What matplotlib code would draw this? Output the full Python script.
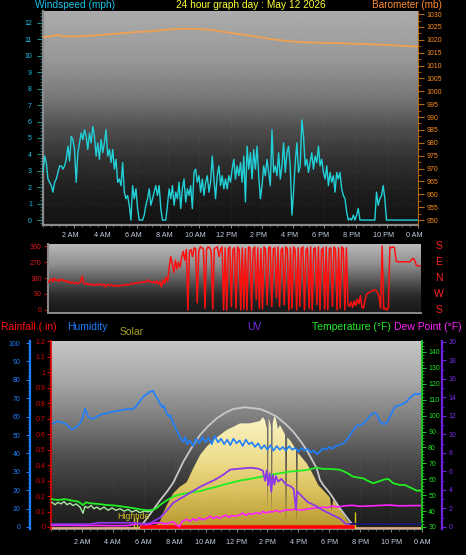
import numpy as np
import matplotlib
matplotlib.use("Agg")
import matplotlib.pyplot as plt
from matplotlib.colors import LinearSegmentedColormap
from matplotlib.ticker import MultipleLocator, FuncFormatter
from matplotlib.transforms import ScaledTranslation, blended_transform_factory

plt.rcParams['font.family'] = ['Liberation Sans', 'DejaVu Sans']

W, H = 466, 555

# ---------------- data ----------------
hour_ticks = [2, 4, 6, 8, 10, 12, 14, 16, 18, 20, 22, 24]
hour_labels = ['2 AM', '4 AM', '6 AM', '8 AM', '10 AM', '12 PM',
               '2 PM', '4 PM', '6 PM', '8 PM', '10 PM', '0 AM']
compass_labels = ['S', 'E', 'N', 'W', 'S']
compass_deg = [360, 270, 180, 90, 0]

# windspeed (mph), evenly spaced samples over the day
wind_speed = [
    2.9, 3.9, 3.5, 2.5, 2.3, 2.1, 1.7, 2.3, 2.5, 2.9,
    3.3, 3.3, 3.1, 3.3, 3.7, 4.5, 3.6, 5.1, 4.9, 4.3,
    2.3, 4.1, 4.7, 5.3, 4.9, 5.5, 5.1, 4.3, 5.3, 4.7,
    5.7, 5.1, 3.9, 4.7, 3.7, 4.9, 4.1, 4.7, 5.5, 3.9,
    4.3, 3.5, 4.3, 3.1, 3.7, 2.3, 2.5, 2.1, 3.5, 1.7,
    1.3, 1.5, 0.9, 0.0, 2.1, 1.3, 1.9, 0.7, 0.0, 0.0,
    0.0, 0.3, 0.9, 1.3, 1.9, 0.9, 1.3, 1.7, 2.1, 1.5,
    2.1, 0.7, 0.0, 0.0, 0.0, 0.9, 1.9, 1.3, 2.1, 0.9,
    1.7, 1.3, 2.3, 0.7, 1.9, 2.5, 1.1, 1.9, 1.5, 2.1,
    0.7, 2.9, 3.1, 2.3, 2.7, 1.7, 2.5, 1.5, 2.3, 2.7,
    1.7, 2.3, 3.9, 2.5, 1.3, 2.7, 3.3, 2.1, 2.7, 1.9,
    2.5, 1.9, 2.7, 2.3, 3.1, 3.7, 2.5, 3.3, 2.7, 3.5,
    2.3, 3.9, 1.1, 4.5, 3.1, 4.1, 2.5, 4.3, 3.1, 4.5,
    2.7, 1.3, 2.1, 3.3, 2.7, 3.7, 2.9, 2.1, 5.5, 2.9,
    3.3, 2.7, 4.1, 2.5, 3.3, 4.7, 2.9, 4.1, 4.5, 3.3,
    0.3, 1.7, 3.5, 4.7, 2.9, 3.3, 6.1, 5.1, 3.3, 3.7,
    2.9, 3.5, 4.1, 3.1, 3.9, 3.5, 4.5, 3.3, 3.7, 2.9,
    2.5, 3.3, 2.1, 2.9, 2.3, 2.7, 1.7, 2.9, 2.5, 2.9,
    1.9, 1.5, 1.3, 0.5, 0.0, 0.1, 0.0, 0.3, 0.0, 0.3,
    0.7, 0.0, 0.0, 0.0, 0.0, 0.0, 0.0, 0.0, 0.0, 0.0,
    0.0, 1.7, 0.9, 1.3, 1.5, 2.1, 1.3, 0.0, 0.0, 0.0,
    0.0, 0.0, 0.0, 0.0, 0.0, 0.0, 0.0, 0.0, 0.0, 0.0,
    0.0, 0.0, 0.0, 0.0, 0.0, 0.0, 0.0,
]

# barometer (hour, mb)
barometer = [
    (0.0, 1021.1), (0.45, 1021.3), (0.96, 1021.9), (1.3, 1021.4), (2.05, 1021.3),
    (3.0, 1021.6), (4.0, 1022.0), (4.9, 1022.5), (5.9, 1023.0), (6.9, 1023.3),
    (7.8, 1023.9), (8.8, 1024.3), (9.7, 1024.3), (10.7, 1023.9), (11.7, 1023.0),
    (12.6, 1022.2), (13.6, 1021.3), (14.6, 1020.3), (15.5, 1019.6), (16.5, 1019.1),
    (17.4, 1018.9), (18.4, 1018.8), (19.4, 1018.6), (20.3, 1018.4), (21.3, 1018.2),
    (22.2, 1018.0), (23.2, 1017.6), (24.0, 1017.3),
]

# wind direction (degrees), one sample every 6 minutes
wind_dir = [
    155, 165, 175, 160, 180, 165, 170, 160, 175, 165,
    170, 160, 165, 155, 160, 150, 158, 150, 155, 148,
    152, 160, 190, 150, 145, 150, 142, 148, 140, 145,
    138, 145, 140, 148, 142, 138, 145, 130, 140, 145,
    136, 142, 135, 140, 132, 138, 134, 140, 136, 142,
    138, 145, 140, 148, 150, 146, 152, 150, 156, 152,
    158, 154, 160, 156, 170, 158, 162, 155, 160, 150,
    165, 145, 160, 130, 170, 150, 185, 160, 240, 300,
    260, 210, 280, 230, 270, 240, 300, 330, 280, 340,
    0, 330, 340, 300, 350, 345, 40, 330, 355, 350,
    345, 10, 340, 355, 350, 330, 5, 345, 350, 355,
    300, 340, 355, 0, 350, 0, 345, 355, 20, 340,
    350, 10, 355, 340, 0, 350, 5, 345, 0, 355,
    350, 0, 340, 355, 60, 350, 10, 345, 5, 355,
    340, 30, 350, 355, 20, 345, 350, 70, 355, 20,
    340, 350, 30, 355, 345, 0, 350, 10, 355, 340,
    0, 350, 20, 345, 355, 0, 340, 350, 10, 355,
    0, 345, 350, 30, 355, 0, 340, 350, 5, 355,
    0, 345, 350, 20, 355, 340, 0, 350, 10, 355,
    345, 0, 350, 30, 20, 45, 15, 50, 25, 60,
    35, 80, 15, 10, 55, 90, 95, 100, 105, 108,
    115, 110, 100, 75, 10, 360, 5, 10, 0, 10,
    355, 350, 355, 350, 275, 272, 270, 272, 270, 272,
    270, 272, 270, 272, 285, 290, 280, 250, 248, 248,
    248,
]

# humidity (hour, %)
humidity = [
    (0.0, 56.0), (0.15, 56.4), (0.4, 57.5), (0.58, 57.2), (0.8, 56.5), (1.02, 55.8),
    (1.2, 54.0), (1.34, 53.1), (1.5, 53.5), (1.66, 54.5), (1.85, 56.0), (1.99, 58.2),
    (2.1, 61.0), (2.2, 64.5), (2.3, 62.0), (2.41, 60.0), (2.6, 59.0), (2.74, 58.7),
    (2.95, 60.0), (3.17, 60.9), (3.4, 61.5), (3.6, 61.8), (3.9, 62.5), (4.25, 63.0),
    (4.6, 63.5), (4.9, 64.1), (5.1, 64.0), (5.32, 64.1), (5.5, 65.5), (5.65, 67.2),
    (5.8, 69.0), (5.97, 70.8), (6.15, 72.0), (6.29, 72.6), (6.4, 73.8), (6.51, 73.5),
    (6.6, 74.0), (6.73, 71.7), (6.9, 69.5), (7.05, 67.2), (7.2, 65.0), (7.3, 66.0),
    (7.48, 61.8), (7.6, 60.0), (7.7, 61.0), (7.91, 56.4), (8.0, 55.0), (8.1, 53.0),
    (8.23, 50.9), (8.4, 48.0), (8.56, 46.4), (8.7, 49.0), (8.8, 45.0), (8.99, 47.0),
    (9.2, 44.0), (9.4, 48.0), (9.6, 45.5), (9.8, 49.0), (10.0, 46.0), (10.2, 48.5),
    (10.4, 45.0), (10.6, 49.5), (10.8, 46.0), (11.0, 48.0), (11.2, 45.0), (11.4, 47.5),
    (11.6, 44.5), (11.8, 48.0), (12.0, 45.5), (12.2, 47.0), (12.4, 44.0), (12.6, 47.5),
    (12.8, 45.0), (13.0, 46.0), (13.2, 43.5), (13.4, 45.5), (13.6, 42.5), (13.8, 44.5),
    (14.0, 42.0), (14.2, 44.5), (14.4, 41.5), (14.6, 44.0), (14.8, 42.0), (15.0, 43.5),
    (15.2, 41.5), (15.4, 44.0), (15.6, 42.0), (15.8, 43.0), (16.0, 41.0), (16.2, 43.0),
    (16.4, 41.5), (16.6, 42.5), (16.8, 40.5), (17.0, 41.5), (17.2, 39.5), (17.4, 41.0),
    (17.6, 42.8), (17.8, 42.0), (18.0, 43.5), (18.2, 42.5), (18.4, 44.0), (18.6, 44.5),
    (18.8, 45.0), (19.0, 46.0), (19.2, 48.0), (19.34, 50.0), (19.5, 52.0), (19.77, 55.0),
    (20.1, 55.5), (20.42, 58.2), (20.74, 61.4), (20.96, 62.1), (21.1, 61.0), (21.28, 57.2),
    (21.5, 56.0), (21.71, 56.4), (21.93, 60.0), (22.1, 63.0), (22.25, 65.4), (22.58, 66.3),
    (22.8, 67.0), (23.0, 68.1), (23.2, 70.0), (23.43, 71.7), (23.6, 72.5), (23.76, 72.0),
    (24.0, 73.0),
]

# temperature (hour, F)
temperature = [
    (0.0, 47.5), (0.45, 47.0), (0.9, 47.5), (1.42, 46.5), (1.75, 46.0), (2.07, 43.8),
    (2.26, 45.5), (2.52, 44.9), (3.04, 44.5), (3.62, 43.8), (4.14, 43.5), (4.66, 42.8),
    (5.24, 42.0), (5.76, 41.1), (6.21, 40.5), (6.6, 40.7), (6.86, 42.0), (7.05, 43.8),
    (7.44, 46.5), (7.89, 49.0), (8.34, 50.5), (8.99, 51.6), (9.64, 52.5), (10.09, 53.8),
    (10.61, 55.0), (11.13, 56.5), (11.71, 58.0), (12.23, 59.2), (12.74, 60.0), (13.3, 61.0),
    (13.84, 62.0), (14.38, 63.1), (15.46, 64.8), (16.54, 65.8), (17.19, 67.3), (17.6, 66.5),
    (18.05, 66.5), (18.69, 66.0), (19.15, 64.0), (19.55, 61.6), (20.18, 60.6), (20.5, 59.0),
    (20.85, 57.5), (21.28, 58.9), (21.54, 59.8), (21.82, 60.2), (22.14, 57.5), (22.57, 56.4),
    (22.9, 56.4), (23.35, 54.3), (23.67, 52.8), (24.0, 53.0),
]

# pale green "feels like" trace in the early hours (hour, F)
feels_like = [
    (0.06, 45.5), (0.26, 44.0), (0.45, 45.5), (0.65, 44.5), (0.84, 46.0), (1.03, 44.0),
    (1.23, 45.0), (1.42, 43.5), (1.62, 44.5), (1.88, 42.5), (2.07, 38.6), (2.2, 43.0),
    (2.39, 42.0), (2.59, 43.5), (2.78, 41.5), (2.98, 42.5), (3.17, 41.0), (3.43, 42.5),
    (3.69, 40.5), (3.95, 42.0), (4.2, 40.5), (4.46, 41.5), (4.72, 40.0), (4.98, 41.0),
    (5.24, 39.5), (5.5, 40.5), (5.76, 39.0), (6.02, 40.0), (6.27, 39.5), (6.53, 40.5),
]

# dew point (hour, F)
dew_point = [
    (0.0, 31.0), (1.0, 31.1), (2.0, 30.9), (3.0, 31.0), (4.0, 30.8), (5.0, 30.9),
    (5.76, 32.3), (6.1, 31.5), (6.4, 31.7), (6.7, 32.5), (7.05, 32.8), (7.4, 32.0),
    (7.9, 33.3), (8.1, 31.5), (8.3, 30.2), (8.5, 33.8), (8.8, 34.8), (9.0, 33.5),
    (9.2, 35.2), (9.4, 34.0), (9.6, 35.8), (9.8, 34.5), (10.1, 35.5), (10.3, 36.8),
    (10.5, 35.2), (10.7, 36.5), (10.9, 35.5), (11.1, 36.5), (11.3, 37.5), (11.5, 36.0),
    (11.7, 37.2), (11.9, 36.8), (12.2, 37.5), (12.4, 38.8), (12.6, 37.2), (12.8, 38.5),
    (13.0, 38.0), (13.3, 39.0), (13.5, 38.2), (13.7, 39.8), (13.9, 38.8), (14.1, 39.5),
    (14.4, 39.6), (14.6, 40.5), (14.8, 39.4), (15.0, 40.2), (15.2, 40.8), (15.5, 40.7),
    (15.8, 41.2), (16.1, 40.6), (16.5, 41.1), (16.9, 41.8), (17.3, 42.0), (17.6, 42.4),
    (17.9, 42.2), (18.2, 43.2), (18.5, 42.6), (18.7, 42.8), (19.1, 43.4), (19.5, 43.6),
    (20.0, 43.0), (20.6, 43.2), (21.2, 43.5), (21.9, 43.8), (22.5, 43.3), (23.2, 43.4),
    (24.0, 43.5),
]

# UV index (hour, index)
uv_index = [
    (0.0, 0.3), (2.5, 0.3), (3.0, 0.45), (5.5, 0.45), (5.76, 0.3), (6.4, 0.4),
    (7.05, 1.0), (7.5, 1.8), (7.9, 2.6), (8.5, 3.2), (9.0, 3.7), (9.6, 4.3),
    (10.1, 4.7), (10.6, 5.1), (11.1, 5.6), (11.6, 6.2), (12.2, 6.3), (12.9, 6.4),
    (13.4, 6.3), (13.7, 6.1), (13.85, 5.0), (13.95, 6.1), (14.05, 4.5), (14.15, 5.8),
    (14.25, 3.8), (14.35, 5.6), (14.45, 4.6), (14.55, 5.5), (14.7, 4.9), (14.9, 5.2),
    (15.2, 4.6), (15.5, 4.4), (15.7, 4.1), (15.85, 1.9), (15.92, 3.9), (16.0, 3.7),
    (16.3, 3.2), (16.6, 2.7), (17.1, 2.3), (17.6, 1.8), (18.2, 1.3), (18.7, 0.9),
    (19.1, 0.3), (19.3, 0.3),
]
uv_night = [(19.3, 0.3), (24.0, 0.3)]

# solar radiation (hour, W/m2) and the clear-sky maximum curve
solar = [
    (6.4, 0), (6.86, 20), (7.05, 38), (7.24, 98), (7.5, 157), (7.9, 240),
    (8.34, 288), (8.78, 320), (9.2, 419), (9.64, 514), (10.07, 574), (10.5, 621),
    (10.93, 657), (11.36, 693), (11.79, 716), (12.23, 740), (12.87, 741), (13.52, 757),
    (13.7, 785), (13.84, 764), (13.97, 700), (14.02, 120), (14.08, 780), (14.23, 720),
    (14.28, 80), (14.34, 740), (14.45, 795), (14.55, 770), (14.68, 700), (14.81, 728),
    (15.0, 690), (15.14, 660), (15.2, 20), (15.28, 640), (15.46, 620), (15.67, 586),
    (15.85, 550), (15.9, 30), (15.96, 530), (16.1, 514), (16.54, 455), (16.97, 371),
    (17.29, 300), (17.72, 250), (18.05, 210), (18.15, 120), (18.25, 193), (18.69, 134),
    (19.15, 50), (19.53, 0),
]
solar_max = [
    (5.76, 0), (6.2, 60), (6.6, 121), (7.05, 190), (7.5, 252), (7.9, 315),
    (8.56, 466), (9.06, 560), (9.64, 657), (10.16, 720), (10.72, 776), (11.26, 815),
    (11.79, 843), (12.55, 855), (13.52, 843), (14.04, 820), (14.6, 788), (15.13, 740),
    (15.67, 681), (16.1, 620), (16.54, 550), (17.19, 419), (17.4, 336), (17.61, 300),
    (18.05, 240), (18.69, 134), (19.34, 38), (19.66, 0),
]

# rainfall (in) - zero through the logged period
rain_hours = [5.76, 19.66]
rain_in = [0.0, 0.0]

# tide markers
tide_hours = [5.37, 5.58, 19.66]
tide_height = [0.055, 0.055, 0.1]


def rect(x0, y0, x1, y1):
    return [x0 / W, 1 - y1 / H, (x1 - x0) / W, (y1 - y0) / H]


def backdrop(ax, stops):
    cmap = LinearSegmentedColormap.from_list('bg', stops)
    ax.imshow(np.linspace(0, 1, 256).reshape(-1, 1), cmap=cmap, origin='lower',
              aspect='auto', extent=[0, 1, 0, 1], transform=ax.transAxes,
              zorder=0, interpolation='bilinear')


def style_y(ax, color, labelcolor, major, minor, pad, length=3.0, fmt=None):
    ax.yaxis.set_major_locator(MultipleLocator(major))
    ax.yaxis.set_minor_locator(MultipleLocator(minor))
    if fmt is not None:
        ax.yaxis.set_major_formatter(FuncFormatter(fmt))
    ax.tick_params(axis='y', which='major', color=color, labelcolor=labelcolor,
                   labelsize=5, direction='out', width=0.8, length=length, pad=pad)
    ax.tick_params(axis='y', which='minor', color=color, direction='out',
                   width=0.6, length=length * 0.55)


def style_x(ax, pad):
    ax.set_xlim(0, 24)
    ax.set_xticks(hour_ticks)
    ax.set_xticklabels(hour_labels)
    ax.xaxis.set_minor_locator(MultipleLocator(0.5))
    ax.tick_params(axis='x', which='major', color='#8a8a8a', labelcolor='#c4cfe2',
                   labelsize=5.2, length=2, width=0.7, pad=pad)
    ax.tick_params(axis='x', which='minor', color='#8a8a8a', length=1.2, width=0.5)


def unzip(pairs):
    return [p[0] for p in pairs], [p[1] for p in pairs]


gfmt = lambda v, pos: '%g' % round(v, 2)

fig = plt.figure(figsize=(W / 100, H / 100), dpi=100, facecolor='black')

# ---------------- windspeed / barometer ----------------
ax_w = fig.add_axes(rect(43, 11, 418, 225))
backdrop(ax_w, [(0, '#121212'), (0.16, '#1e1e1e'), (0.3, '#303030'), (0.44, '#4c4c4c'),
                (0.58, '#747474'), (0.77, '#989898'), (1.0, '#acacac')])
ax_w.plot(np.linspace(0, 24, len(wind_speed)), wind_speed, color='#22d0d8', lw=1.0, zorder=3)
ax_w.set_ylim(-0.3, 12.73)
style_x(ax_w, pad=3.2)
style_y(ax_w, '#0c8c8c', '#1cc4e8', 1, 0.2, pad=4, length=4)
ax_w.grid(True, which='major', color='#ffffff', alpha=0.07, lw=0.6, ls=':')
for side in ['top', 'right']:
    ax_w.spines[side].set_visible(False)
for side in ['left', 'bottom']:
    ax_w.spines[side].set_color('#8a8a8a')
    ax_w.spines[side].set_linewidth(1.6)
shift = ScaledTranslation(-3.5 / 100, 0, fig.dpi_scale_trans)
for lab in ax_w.get_xticklabels():
    lab.set_transform(lab.get_transform() + shift)

ax_b = ax_w.twinx()
bh, bv = unzip(barometer)
ax_b.plot(bh, bv, color='#f0a050', lw=1.3)
ax_b.set_ylim(948.06, 1031.2)
ax_b.set_xlim(0, 24)
style_y(ax_b, '#b86810', '#ff8c1a', 5, 2.5, pad=2, length=4)
for side in ['top', 'left', 'bottom']:
    ax_b.spines[side].set_visible(False)
ax_b.spines['right'].set_color('#b86810')

fig.text(35 / W, 1 - 5 / H, 'Windspeed (mph)', color='#1cc4e8', fontsize=7.3,
         ha='left', va='center')
fig.text(250.5 / W, 1 - 5 / H, '24 hour graph day : May 12 2026', color='#ffff33',
         fontsize=7.3, ha='center', va='center')
fig.text(442 / W, 1 - 4.5 / H, 'Barometer (mb)', color='#ff8c33', fontsize=7.2,
         ha='right', va='center')

# ---------------- wind direction ----------------
ax_d = fig.add_axes(rect(48, 244, 421, 313))
backdrop(ax_d, [(0, '#161616'), (0.26, '#2a2a2a'), (0.48, '#5a5a5a'),
                (0.7, '#8e8e8e'), (1.0, '#b8b8b8')])
ax_d.plot(np.linspace(0, 24, len(wind_dir)), wind_dir, color='#ff1010', lw=1.1, zorder=3)
ax_d.set_xlim(0, 24)
ax_d.set_ylim(-16.9, 371.3)
ax_d.set_xticks([])
style_y(ax_d, '#b01010', '#e01818', 90, 22.5, pad=1.5, length=3)
ax_d.grid(True, axis='y', color='#ffffff', alpha=0.07, lw=0.6, ls=':')
for side in ['top', 'right']:
    ax_d.spines[side].set_visible(False)
for side in ['left', 'bottom']:
    ax_d.spines[side].set_color('#8a8a8a')
    ax_d.spines[side].set_linewidth(1.4)
compass_tf = blended_transform_factory(fig.transFigure, ax_d.transData)
for lab, deg in zip(compass_labels, compass_deg):
    fig.text(439 / W, deg, lab, transform=compass_tf, color='#ff2020', fontsize=7.5,
             ha='center', va='center')

# ---------------- solar / humidity / rain / temperature / UV ----------------
ax_s = fig.add_axes(rect(51, 341, 422, 529))
backdrop(ax_s, [(0, '#1c1c1c'), (0.15, '#2a2a2a'), (0.37, '#4c4c4c'),
                (0.58, '#7c7c7c'), (0.79, '#a8a8a8'), (1.0, '#c6c6c6')])
sh, sv = unzip(solar)
fill = ax_s.fill_between(sh, 0, sv, facecolor='none', edgecolor='none')
sun_cmap = LinearSegmentedColormap.from_list(
    'sun', [(0, '#b8982e'), (0.3, '#d8bf5a'), (0.6, '#eedd8c'), (1.0, '#fbf5c8')])
sun = ax_s.imshow(np.linspace(0, 1, 256).reshape(-1, 1), cmap=sun_cmap, origin='lower',
                  aspect='auto', extent=[0, 24, 0, 800], zorder=1, interpolation='bilinear')
sun.set_clip_path(fill.get_paths()[0], transform=ax_s.transData)
mh, mv = unzip(solar_max)
ax_s.plot(mh, mv, color='#c8c8c8', lw=1.3, zorder=2)
ax_s.set_ylim(-14.3, 1328.6)
style_x(ax_s, pad=5.4)
ax_s.set_yticks([])
ax_s.grid(True, axis='x', which='major', color='#ffffff', alpha=0.07, lw=0.6, ls=':')
for side in ['top', 'right', 'left']:
    ax_s.spines[side].set_visible(False)
ax_s.spines['bottom'].set_color('#8a8a8a')
ax_s.spines['bottom'].set_linewidth(1.4)

ax_h = ax_s.twinx()
hh, hv = unzip(humidity)
ax_h.plot(hh, hv, color='#1f80ff', lw=1.2)
ax_h.axhline(-0.6, color='#f2b488', lw=1.2)
ax_h.set_ylim(-1.09, 101.1)
ax_h.yaxis.tick_left()
style_y(ax_h, '#1f80ff', '#1f80ff', 10, 2, pad=4, length=3)
for side in ['top', 'right', 'bottom']:
    ax_h.spines[side].set_visible(False)
ax_h.spines['left'].set_position(('outward', 15.1))
ax_h.spines['left'].set_color('#1f80ff')
ax_h.spines['left'].set_linewidth(1.6)

ax_r = ax_s.twinx()
ax_r.plot(rain_hours, rain_in, color='#ff0000', lw=2.6, solid_capstyle='butt')
ax_r.vlines(tide_hours, -0.013, tide_height, color='#d8c820', lw=1.0)
ax_r.text(5.3, 0.071, 'Hightide', color='#d0c020', fontsize=6.3, ha='center', va='center')
ax_r.set_ylim(-0.013, 1.203)
ax_r.yaxis.tick_left()
style_y(ax_r, '#e00000', '#e00000', 0.1, 0.02, pad=1, length=3, fmt=gfmt)
for side in ['top', 'right', 'bottom']:
    ax_r.spines[side].set_visible(False)
ax_r.spines['left'].set_color('#e00000')
ax_r.spines['left'].set_linestyle((0, (1, 1)))
ax_r.spines['left'].set_linewidth(1.2)

ax_t = ax_s.twinx()
th, tv = unzip(temperature)
fh, fv = unzip(feels_like)
dh, dv = unzip(dew_point)
ax_t.plot(fh, fv, color='#a8e8a0', lw=1.0)
ax_t.plot(th, tv, color='#22ee22', lw=1.3)
ax_t.plot(dh, dv, color='#ff22ff', lw=1.2)
ax_t.set_ylim(28.74, 146.9)
style_y(ax_t, '#20c020', '#20e020', 10, 2, pad=1.5, length=3)
for side in ['top', 'left', 'bottom']:
    ax_t.spines[side].set_visible(False)
ax_t.spines['right'].set_color('#20c020')
ax_t.spines['right'].set_linewidth(1.4)

ax_u = ax_s.twinx()
uh, uv = unzip(uv_index)
nh, nv = unzip(uv_night)
ax_u.plot(nh, nv, color='#181870', lw=1.3)
ax_u.plot(uh, uv, color='#8f38e8', lw=1.3)
ax_u.set_ylim(-0.22, 20.1)
style_y(ax_u, '#7020e0', '#7a2ee6', 2, 1, pad=2, length=3)
for side in ['top', 'left', 'bottom']:
    ax_u.spines[side].set_visible(False)
ax_u.spines['right'].set_position(('outward', 14.4))
ax_u.spines['right'].set_color('#7020e0')
ax_u.spines['right'].set_linewidth(1.6)

for ax in [ax_h, ax_r, ax_t, ax_u]:
    ax.set_xlim(0, 24)

legend_y = 1 - 327 / H
fig.text(1 / W, legend_y, 'Rainfall (.in)', color='#ff1010', fontsize=7.5, ha='left', va='center')
fig.text(67 / W, legend_y, 'Humidity', color='#1f80ff', fontsize=7.5, ha='left', va='center')
fig.text(120 / W, 1 - 332 / H, 'Solar', color='#a8a020', fontsize=7.5, ha='left', va='center')
fig.text(247 / W, legend_y, 'UV', color='#7a2ee6', fontsize=7.5, ha='left', va='center')
fig.text(312 / W, legend_y, 'Temperature (\u00b0F)', color='#22ee22', fontsize=7.5,
         ha='left', va='center')
fig.text(394 / W, legend_y, 'Dew Point (\u00b0F)', color='#ff22ff', fontsize=7.5,
         ha='left', va='center')

fig.savefig('out.png', dpi=100, facecolor='black')
